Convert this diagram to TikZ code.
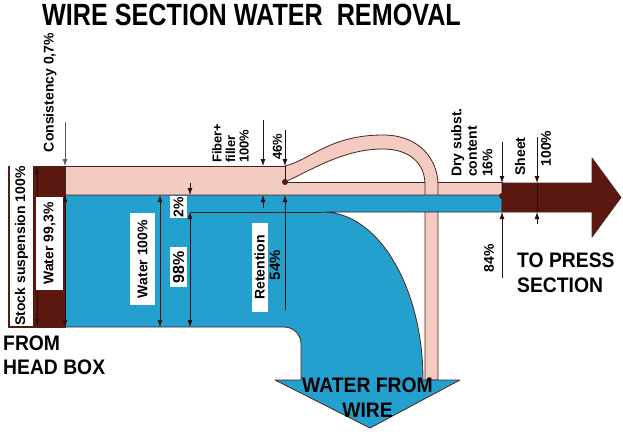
\documentclass[tikz,border=0pt]{standalone}
\usepackage{fontspec}
\setmainfont{Liberation Sans}
\usepackage{graphicx}
\usetikzlibrary{arrows.meta}
\definecolor{brn}{RGB}{90,24,16}
\definecolor{pnk}{RGB}{243,203,193}
\definecolor{blu}{RGB}{35,160,205}
\definecolor{edgec}{RGB}{75,35,30}
\definecolor{dimc}{RGB}{45,15,15}
\newcommand{\fsz}[1]{\fontsize{#1}{#1}\selectfont\bfseries}
\begin{document}
\begin{tikzpicture}[x=1pt,y=-1pt,
  outl/.style={draw=edgec, line width=0.8pt, line join=round},
  dimline/.style={draw=dimc, line width=0.8pt},
  dimarrow/.style={dimline, -{Latex[length=7pt,width=5pt]}},
  dimboth/.style={dimline, {Latex[length=7pt,width=5pt]}-{Latex[length=7pt,width=5pt]}},
  rlbl/.style={rotate=90, inner sep=0pt, text=black},
  wbox/.style={rlbl, fill=white},
  bigtxt/.style={anchor=base west, inner sep=0pt, text=black}
]
\useasboundingbox (0,0) rectangle (623,442);

% pink fibre band
\filldraw[fill=pnk, outl] (65,166) -- (285,166) -- (285,182) -- (502,182) -- (502,195) -- (65,195) -- cycle;
% pink loop going down
\fill[pnk] (285,166) .. controls (310,160) and (330,135) .. (383,135)
  .. controls (420,135) and (438,160) .. (438,185) -- (438,380) -- (425,380) -- (425,185)
  .. controls (425,162) and (408,149) .. (383,149)
  .. controls (345,149) and (315,168) .. (285,182) -- cycle;
\draw[outl] (285,166) .. controls (310,160) and (330,135) .. (383,135)
  .. controls (420,135) and (438,160) .. (438,185) -- (438,380) -- (425,380) -- (425,185)
  .. controls (425,162) and (408,149) .. (383,149)
  .. controls (345,149) and (315,168) .. (285,182);

% blue water
\filldraw[fill=blu, outl] (65,195) -- (502,195) -- (502,212) -- (323,212)
  .. controls (378.2,212) and (423,287.2) .. (423,380)
  -- (460,380) -- (370,428) -- (275,380) -- (301,380) -- (301,344)
  .. controls (301,334.6) and (293.4,327) .. (284,327) -- (65,327) -- cycle;
\draw[outl] (190,212) -- (323,212);

% brown head box and sheet arrow
\filldraw[fill=brn, outl] (8,166) rectangle (65,327);
\filldraw[fill=brn, outl] (502,183) -- (592,183) -- (592,158) -- (621,197.5) -- (592,237) -- (592,212) -- (502,212) -- cycle;

% dimension lines
\draw[dimarrow, draw=dimc!70] (65,122) -- (65,166);
\draw[dimboth] (65,195) -- (65,327);
\draw[dimboth] (37,167) -- (37,326);
\draw[dimboth] (160,195) -- (160,327);
\draw[dimarrow] (190,183) -- (190,195);
\draw[dimboth] (190,212) -- (190,327);
\draw[dimarrow] (263,120) -- (263,166);
\draw[dimarrow] (263,208) -- (263,195);
\draw[dimarrow] (285,130) -- (285,166);
\draw[dimline] (285,166) -- (285,182);
\draw[dimarrow] (285,310) -- (285,195);
\draw[dimarrow] (502,142) -- (502,183);
\draw[dimline] (502,183) -- (502,196);
\draw[dimarrow] (502,278) -- (502,212);
\draw[dimarrow] (537,137) -- (537,183);
\draw[dimline] (537,183) -- (537,212);
\draw[dimarrow] (537,224) -- (537,212);

% dots
\coordinate (split) at (285,182);
\coordinate (dry) at (502,196);
\fill[brn] (split) circle (3pt);
\fill[brn] (dry) circle (3pt);

% white label boxes
\node[wbox, minimum width=158pt, minimum height=23pt, font=\fsz{14}] (stock) at (21.5,246) {Stock suspension 100\%};
\node[wbox, minimum width=93pt, minimum height=27pt, font=\fsz{14}] (w993) at (49.5,243.5) {Water 99,3\%};
\node[wbox, minimum width=92pt, minimum height=25pt, font=\fsz{14}] (w100) at (142.5,259) {Water 100\%};
\node[wbox, minimum width=22pt, minimum height=17pt, font=\fsz{14}] (p2) at (178.5,207) {2\%};
\node[wbox, minimum width=40pt, minimum height=17pt, font=\fsz{16}] (p98) at (178.5,267) {98\%};
\node[wbox, minimum width=89pt, minimum height=16pt, font=\fsz{14}] (ret) at (259.5,267.5) {Retention};

% rotated texts without box
\node[rlbl, font=\fsz{14}] (cons) at (50,92.5) {Consistency 0,7\%};
\node[rlbl, anchor=north west, align=left, font=\fontsize{13}{13.5}\selectfont\bfseries] (fiber) at (212,163) {Fiber+\\filler\\100\%};
\node[rlbl, font=\fsz{13}] (p46) at (277.5,146.5) {46\%};
\node[rlbl, font=\fsz{15}] (p54) at (275,265) {54\%};
\node[rlbl, anchor=north west, align=left, font=\fontsize{14}{15.5}\selectfont\bfseries] (drys) at (451,177) {Dry subst.\\content\\16\%};
\node[rlbl, font=\fsz{14}] (p84) at (489,258.5) {84\%};
\node[rlbl, font=\fsz{14}] (sheet) at (520,156.5) {Sheet};
\node[rlbl, font=\fsz{14}] (p100) at (546,148.5) {100\%};

% big texts
\node[bigtxt] (title) at (42,25) {\scalebox{0.82}[1]{\fsz{30.7}WIRE SECTION WATER\ \ REMOVAL}};
\node[bigtxt] (from1) at (3,350) {\scalebox{0.92}[1]{\fsz{21}FROM}};
\node[bigtxt] (from2) at (3,374) {\scalebox{0.92}[1]{\fsz{21}HEAD BOX}};
\node[bigtxt] (to1) at (517,267) {\scalebox{0.92}[1]{\fsz{21}TO PRESS}};
\node[bigtxt] (to2) at (517,292) {\scalebox{0.92}[1]{\fsz{21}SECTION}};
\node[bigtxt, anchor=base] (wat1) at (367.5,392) {\scalebox{0.92}[1]{\fsz{21}WATER FROM}};
\node[bigtxt, anchor=base] (wat2) at (367.5,417) {\scalebox{0.92}[1]{\fsz{21}WIRE}};
\end{tikzpicture}
\end{document}
